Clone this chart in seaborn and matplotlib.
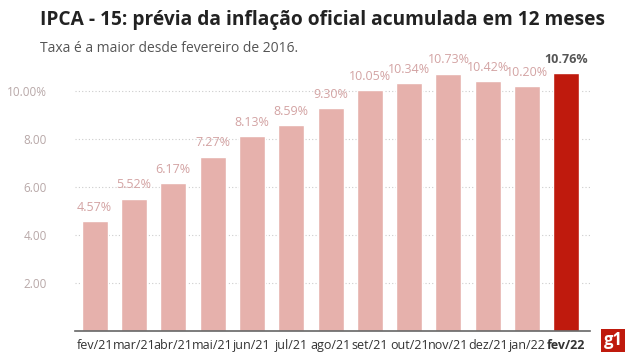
import numpy as np
import pandas as pd
import seaborn as sns
from matplotlib import pyplot as plt

meses = ["fev/21", "mar/21", "abr/21", "mai/21", "jun/21", "jul/21", "ago/21",
         "set/21", "out/21", "nov/21", "dez/21", "jan/22", "fev/22"]
taxas = [4.57, 5.52, 6.17, 7.27, 8.13, 8.59, 9.30, 10.05, 10.34, 10.73, 10.42, 10.20, 10.76]
y_ticks = [2, 4, 6, 8, 10]
y_tick_labels = ["2.00", "4.00", "6.00", "8.00", "10.00%"]

light = "#e6b1ac"
dark = "#bf1a0d"

sns.set_style("white")
plt.rcParams['font.family'] = ['Open Sans', 'DejaVu Sans']

df = pd.DataFrame({"mes": meses, "taxa": taxas})
cores = [light] * (len(meses) - 1) + [dark]

fig = plt.figure(figsize=(6.4, 3.6), dpi=100)
ax = fig.add_axes([75 / 640, 1 - 331 / 360, 515 / 640, 263 / 360])

sns.barplot(data=df, x="mes", y="taxa", hue="mes", palette=cores, legend=False,
            width=0.66, saturation=1, ax=ax, zorder=2)

ax.set_xlim(-0.5, 12.6)
ax.set_ylim(0, 10.96)
ax.set_yticks(y_ticks)
ax.set_yticklabels(y_tick_labels, color="#b8a8a8", fontsize=8.5)
ax.yaxis.grid(True, linestyle=(0, (1, 2)), color="#cccccc", linewidth=0.8, zorder=0)
ax.tick_params(axis="y", length=0, pad=20)
ax.tick_params(axis="x", length=0, pad=6)
ax.set_xlabel("")
ax.set_ylabel("")
for s in ["top", "right", "left"]:
    ax.spines[s].set_visible(False)
ax.spines["bottom"].set_color("#666666")
ax.spines["bottom"].set_linewidth(1.2)

for lbl in ax.get_xticklabels():
    lbl.set_fontsize(9)
    lbl.set_color("#333333")
    if lbl.get_text() == meses[-1]:
        lbl.set_fontweight("bold")

for i, v in enumerate(taxas):
    if i == len(taxas) - 1:
        ax.text(i, v + 0.3, f"{v:.2f}%", ha="center", va="bottom", fontsize=9,
                fontweight="bold", color="#555555")
    else:
        ax.text(i, v + 0.3, f"{v:.2f}%", ha="center", va="bottom", fontsize=9,
                color="#d3a3a3")

fig.text(40 / 640, 1 - 20 / 360, "IPCA - 15: prévia da inflação oficial acumulada em 12 meses",
         fontsize=13.8, fontweight="bold", color="#222222", va="center", ha="left")
fig.text(40 / 640, 1 - 48 / 360, "Taxa é a maior desde fevereiro de 2016.",
         fontsize=10, color="#555555", va="center", ha="left")

fig.text(613 / 640, 1 - 340 / 360, "g1", fontsize=12, fontweight="bold", color="white",
         ha="center", va="center",
         bbox=dict(boxstyle="square,pad=0.15", facecolor=dark, edgecolor="none"))

fig.savefig("out.png", dpi=100)
